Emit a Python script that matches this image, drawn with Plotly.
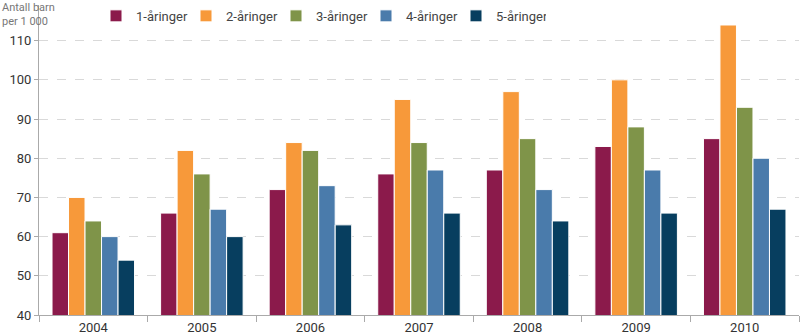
import plotly.graph_objects as go

years = ["2004", "2005", "2006", "2007", "2008", "2009", "2010"]
series_names = ["1-åringer", "2-åringer", "3-åringer", "4-åringer", "5-åringer"]
v1 = [61, 66, 72, 76, 77, 83, 85]
v2 = [70, 82, 84, 95, 97, 100, 114]
v3 = [64, 76, 82, 84, 85, 88, 93]
v4 = [60, 67, 73, 77, 72, 77, 80]
v5 = [54, 60, 63, 66, 64, 66, 67]
colors = ["#8B1A4B", "#F7993A", "#7F9449", "#4A7BAB", "#073E5F"]
y_ticks = [40, 50, 60, 70, 80, 90, 100, 110]

fig = go.Figure()
for name, vals, c in zip(series_names, [v1, v2, v3, v4, v5], colors):
    fig.add_trace(go.Bar(x=years, y=vals, name=name, marker=dict(color=c, line=dict(color="white", width=1))))

W, H = 800, 336
ml, mr, mt, mb = 39, 1, 4, 19
fig.update_layout(
    width=W, height=H,
    margin=dict(l=ml, r=mr, t=mt, b=mb),
    paper_bgcolor="white", plot_bgcolor="white",
    barmode="group", bargap=0.24, bargroupgap=0.0,
    font=dict(family="Roboto", size=13, color="#333333"),
    showlegend=True,
    legend=dict(orientation="h", x=(96 - ml) / (W - ml - mr), xanchor="left",
                y=(H - mb - 15) / (H - mt - mb), yanchor="middle",
                font=dict(size=13, color="#444444"), bgcolor="rgba(0,0,0,0)",
                itemwidth=30, entrywidth=45, entrywidthmode="pixels", tracegroupgap=0),
    xaxis=dict(showline=True, linecolor="#aaaaaa", linewidth=1, ticks="outside", tickson="boundaries",
               ticklen=6, tickcolor="#aaaaaa", showgrid=False, tickfont=dict(size=13, color="#333333")),
    yaxis=dict(range=[40, 119.1], tickvals=y_ticks, showline=True, linecolor="#aaaaaa", linewidth=1,
               ticks="outside", ticklen=4, tickcolor="#aaaaaa", showgrid=True, gridcolor="#d9d9d9",
               griddash="dash", gridwidth=1, zeroline=False, tickfont=dict(size=13, color="#333333")),
    annotations=[dict(text="Antall barn<br>per 1 000", xref="paper", yref="paper",
                      x=-ml / (W - ml - mr), y=1 + mt / (H - mt - mb) + 0.005, xanchor="left", yanchor="top",
                      showarrow=False, align="left", font=dict(size=11, color="#777777"))],
)
fig.write_html("out.html")
